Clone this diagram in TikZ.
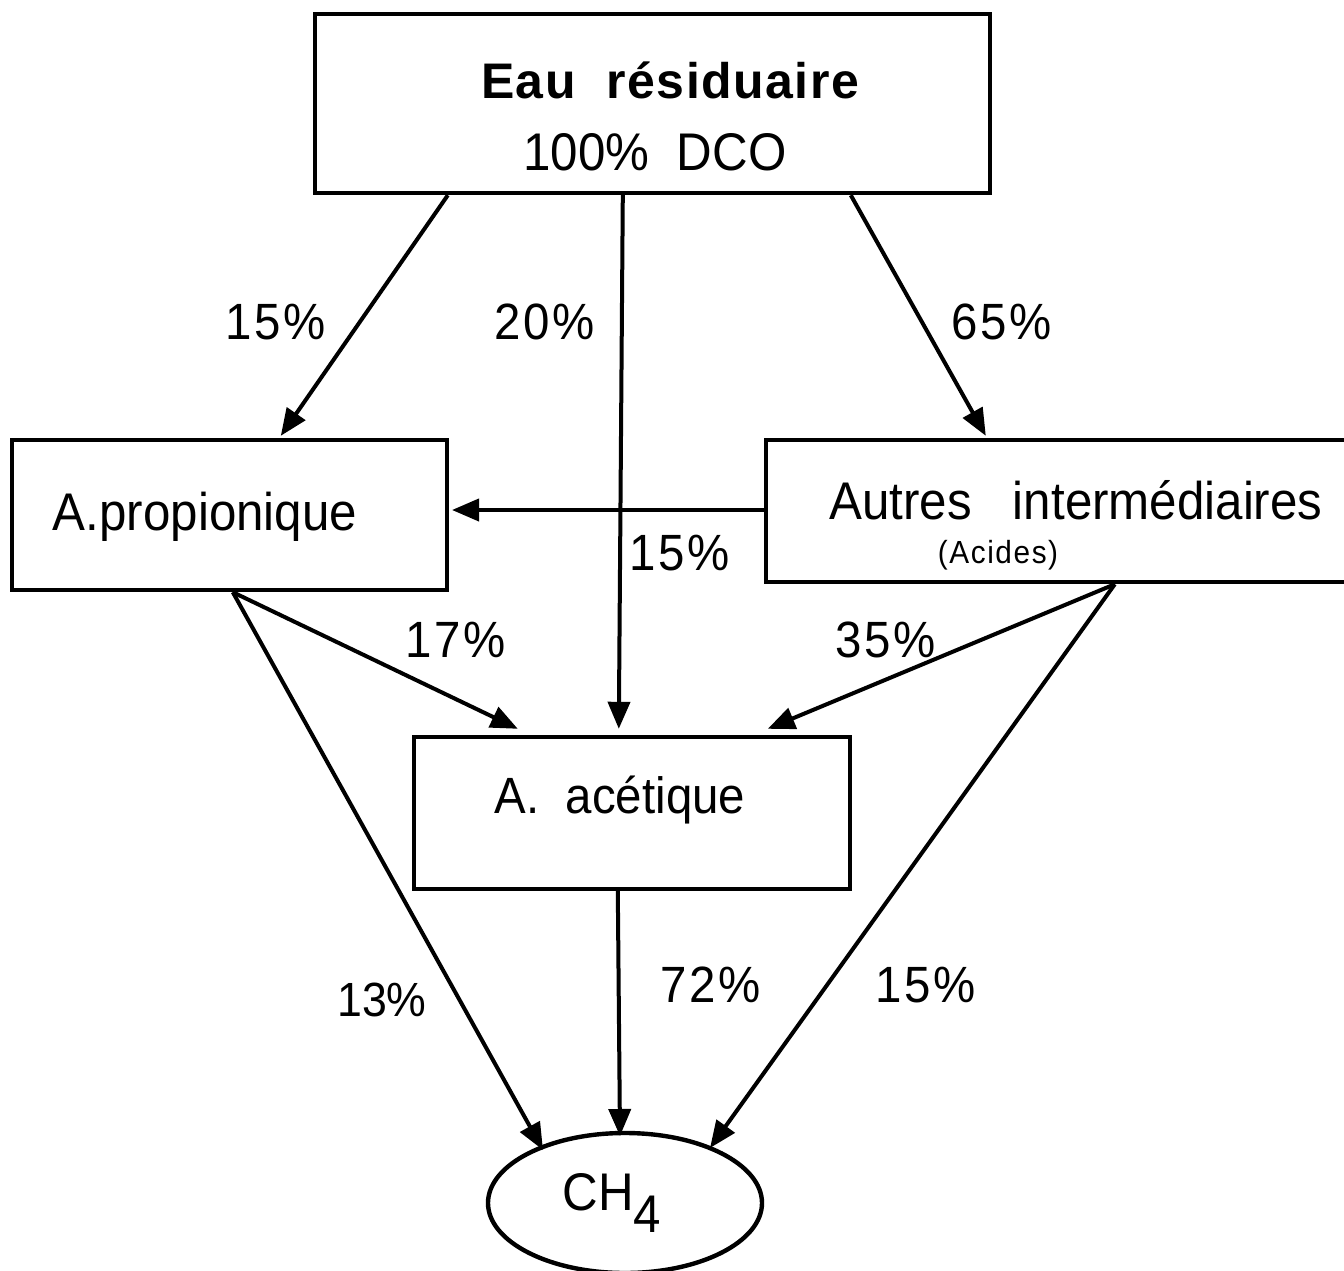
\documentclass[tikz,border=0pt]{standalone}
\usepackage{fontspec}
\setmainfont{Liberation Sans}[FakeStretch=0.93]
\newfontfamily\spaced{Liberation Sans}[LetterSpace=5,FakeStretch=0.93]
\newfontfamily\spacedb{Liberation Sans Bold}[LetterSpace=3]
\usetikzlibrary{arrows.meta,calc,shapes.geometric}
\begin{document}
\begin{tikzpicture}[x=1pt,y=-1pt,
  box/.style={draw,line width=4.4pt,rectangle,inner sep=0pt},
  arr/.style={line width=4pt,-{Triangle[length=27pt,width=22pt]}},
  lbl/.style={font=\fontsize{51}{56}\spaced\selectfont},
  txt/.style={font=\fontsize{53}{58}\selectfont}]
\clip (0,0) rectangle (1344,1271);
\fill[white] (0,0) rectangle (1344,1271);
% boxes
\node[box,minimum width=675pt,minimum height=179pt] (eau) at (652.5,103.5) {};
\node[box,minimum width=435pt,minimum height=150pt] (prop) at (229.5,515) {};
\node[box,minimum width=586pt,minimum height=142pt] (autres) at (1059,511) {};
\node[box,minimum width=436pt,minimum height=152pt] (acet) at (632,813) {};
\node[draw,line width=4.4pt,ellipse,minimum width=274pt,minimum height=140pt,inner sep=0pt] (ch4) at (625,1203) {};
% texts
\node[font=\fontsize{50}{54}\spacedb\selectfont] (t1) at (670,80) {Eau\ \ résiduaire};
\node[txt] (t2) at (655,152) {100\%\ \ DCO};
\node[txt] (t3) at (205,517) {A.propionique};
\node[txt] (t4) at (1076,500) {Autres\ \ \ intermédiaires};
\node[font=\fontsize{32}{36}\spaced\selectfont] (t5) at (998,555) {(Acides)};
\node[font=\fontsize{51}{56}\selectfont] (t6) at (620,800) {A.\ \ acétique};
\node[txt] (t7) at (612,1203) {CH\raisebox{-0.42em}{4}};
% connectors
\coordinate (e1) at ($(eau.south west)+(135,0)$);
\coordinate (e2) at ($(eau.south west)+(310,0)$);
\coordinate (e3) at ($(eau.south west)+(538,0)$);
\coordinate (p1) at ($(prop.north west)+(271,-2)$);
\coordinate (a1) at ($(autres.north west)+(222,-2)$);
\coordinate (c1) at ($(acet.north west)+(207,-6)$);
\coordinate (ps) at ($(prop.south west)+(223,0)$);
\coordinate (as) at ($(autres.south west)+(351,0)$);
\coordinate (c2) at ($(acet.north west)+(356,-6)$);
\coordinate (c3) at ($(acet.north west)+(106,-6)$);
\coordinate (ab) at ($(acet.south west)+(206,0)$);
\coordinate (m1) at (543,1150);
\coordinate (m2) at (620,1136);
\coordinate (m3) at (710,1148);
\draw[arr] (e1) -- (p1);
\draw[arr] (e2) -- (c1);
\draw[arr] (e3) -- (a1);
\draw[arr] (autres.west |- 0,510) -- (452,510);
\draw[arr] (ps) -- (c3);
\draw[arr] (ps) -- (m1);
\draw[arr] (as) -- (c2);
\draw[arr] (as) -- (m3);
\draw[arr] (ab) -- (m2);
% labels
\node[lbl] (l1) at (276,322) {15\%};
\node[lbl] (l2) at (545,322) {20\%};
\node[lbl] (l3) at (1002,322) {65\%};
\node[lbl] (l4) at (680,553) {15\%};
\node[lbl] (l5) at (456,640) {17\%};
\node[lbl] (l6) at (886,640) {35\%};
\node[font=\fontsize{48}{52}\selectfont] (l7) at (382,1000) {13\%};
\node[lbl] (l8) at (711,985) {72\%};
\node[lbl] (l9) at (926,985) {15\%};
\end{tikzpicture}
\end{document}
